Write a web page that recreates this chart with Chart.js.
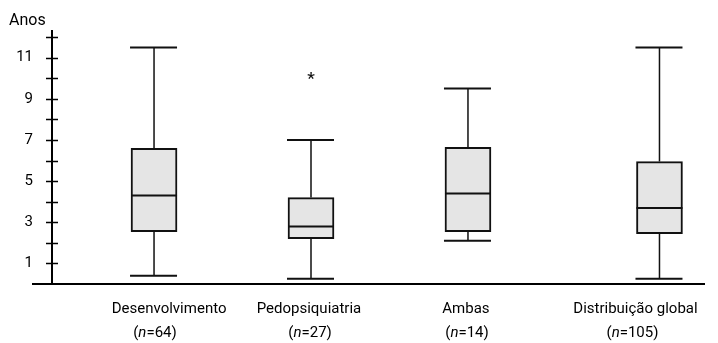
<!DOCTYPE html>
<html>
<head>
<meta charset="utf-8">
<script src="https://cdn.jsdelivr.net/npm/chart.js@4.4.1/dist/chart.umd.min.js"></script>
<style>
  html, body { margin: 0; padding: 0; background: #fff; }
  #wrap { width: 718px; height: 343px; }
</style>
</head>
<body>
<div id="wrap"><canvas id="boxChart" width="718" height="343"></canvas></div>
<script>
// Data (years)
const groups = ['Desenvolvimento', 'Pedopsiquiatria', 'Ambas', 'Distribuição global'];
const groupN = [64, 27, 14, 105];
const whiskerLow = [0.4, 0.25, 2.1, 0.25];
const quartile1 = [2.55, 2.2, 2.55, 2.45];
const medians = [4.3, 2.8, 4.4, 3.7];
const quartile3 = [6.6, 4.2, 6.65, 5.95];
const whiskerHigh = [11.5, 7.0, 9.5, 11.5];
const outliers = [[], [10.1], [], []];
const yTicks = [1, 2, 3, 4, 5, 6, 7, 8, 9, 10, 11, 12];

// Layout: where each group sits on the horizontal axis
const boxPositions = [1, 2, 3, 4.22];
const nameOffsets = [0.096, -0.013, -0.013, -0.153];
const countOffsets = [0.006, -0.006, -0.006, -0.172];

const FONT = 'Roboto, "Open Sans", sans-serif';

// draws whiskers, medians, outliers, axis crosses and labels
const boxPlugin = {
    id: 'boxExtras',
    afterDatasetsDraw(chart) {
        const ctx = chart.ctx;
        const xs = chart.scales.x;
        const ys = chart.scales.y;
        const area = chart.chartArea;
        const meta = chart.getDatasetMeta(0);

        ctx.save();
        ctx.strokeStyle = '#111';
        ctx.fillStyle = '#111';

        boxPositions.forEach((pos, i) => {
            const bar = meta.data[i];
            const half = bar.width / 2;
            const cx = xs.getPixelForValue(pos);
            const yLow = ys.getPixelForValue(whiskerLow[i]);
            const yQ1 = ys.getPixelForValue(quartile1[i]);
            const yMed = ys.getPixelForValue(medians[i]);
            const yQ3 = ys.getPixelForValue(quartile3[i]);
            const yHigh = ys.getPixelForValue(whiskerHigh[i]);

            // whisker stems
            ctx.lineWidth = 1.5;
            ctx.beginPath();
            ctx.moveTo(cx, yQ3);
            ctx.lineTo(cx, yHigh);
            ctx.moveTo(cx, yQ1);
            ctx.lineTo(cx, yLow);
            ctx.stroke();

            // caps
            ctx.lineWidth = 2;
            ctx.beginPath();
            ctx.moveTo(cx - half - 1, yHigh);
            ctx.lineTo(cx + half, yHigh);
            ctx.moveTo(cx - half - 1, yLow);
            ctx.lineTo(cx + half, yLow);
            ctx.stroke();

            // median
            ctx.beginPath();
            ctx.moveTo(cx - half, yMed);
            ctx.lineTo(cx + half, yMed);
            ctx.stroke();

            // outliers
            ctx.font = '500 17px ' + FONT;
            ctx.textAlign = 'center';
            ctx.textBaseline = 'middle';
            outliers[i].forEach(v => {
                ctx.fillText('*', cx, ys.getPixelForValue(v) + 3);
            });
        });

        // tick crosses on the y axis
        ctx.lineWidth = 1.5;
        ctx.strokeStyle = '#000';
        ctx.beginPath();
        yTicks.forEach(v => {
            const py = Math.round(ys.getPixelForValue(v)) + 0.5;
            ctx.moveTo(area.left - 6, py);
            ctx.lineTo(area.left + 6, py);
        });
        ctx.stroke();

        // base line, runs a bit left of the y axis
        ctx.lineWidth = 2;
        ctx.beginPath();
        ctx.moveTo(32, area.bottom);
        ctx.lineTo(area.right, area.bottom);
        ctx.stroke();

        // axis title
        ctx.fillStyle = '#000';
        ctx.font = '16px ' + FONT;
        ctx.textAlign = 'left';
        ctx.textBaseline = 'alphabetic';
        ctx.fillText('Anos', 9, 25);

        // category labels with italic n
        groups.forEach((name, i) => {
            ctx.font = '15px ' + FONT;
            ctx.textAlign = 'center';
            ctx.fillText(name, xs.getPixelForValue(boxPositions[i] + nameOffsets[i]), area.bottom + 29);

            const parts = [
                { t: '(', f: '15px ' + FONT },
                { t: 'n', f: 'italic 15px ' + FONT },
                { t: '=' + groupN[i] + ')', f: '15px ' + FONT }
            ];
            let total = 0;
            parts.forEach(p => { ctx.font = p.f; p.w = ctx.measureText(p.t).width; total += p.w; });
            let x = xs.getPixelForValue(boxPositions[i] + countOffsets[i]) - total / 2;
            ctx.textAlign = 'left';
            parts.forEach(p => {
                ctx.font = p.f;
                ctx.fillText(p.t, x, area.bottom + 53);
                x += p.w;
            });
        });

        ctx.restore();
    }
};

const ctx = document.getElementById('boxChart').getContext('2d');
const boxChart = new Chart(ctx, {
    type: 'bar',
    data: {
        datasets: [{
            data: boxPositions.map((p, i) => ({ x: p, y: [quartile1[i], quartile3[i]] })),
            backgroundColor: '#e5e5e5',
            borderColor: '#111',
            borderWidth: 2,
            borderSkipped: false,
            barThickness: 46
        }]
    },
    options: {
        responsive: false,
        animation: false,
        layout: { padding: { top: 31, right: 13, left: 0, bottom: 0 } },
        plugins: {
            legend: { display: false },
            tooltip: { enabled: false }
        },
        scales: {
            x: {
                type: 'linear',
                offset: false,
                min: 0.35,
                max: 4.51,
                grid: { display: false, offset: false },
                border: { display: false },
                ticks: { display: false },
                afterFit: s => { s.height = 59; }
            },
            y: {
                min: 0,
                max: 12.3,
                afterBuildTicks: s => { s.ticks = yTicks.map(v => ({ value: v })); },
                afterFit: s => { s.width = 52; },
                grid: { display: false },
                border: { display: true, color: '#000', width: 2 },
                ticks: {
                    padding: 11,
                    color: '#000',
                    font: { family: FONT, size: 15 },
                    callback: v => (v % 2 === 1 ? String(v) : '')
                }
            }
        }
    },
    plugins: [boxPlugin]
});
</script>
</body>
</html>
